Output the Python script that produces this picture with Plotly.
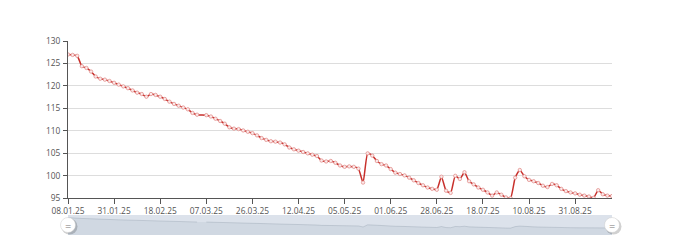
import plotly.graph_objects as go

dates = [
    "08.01.25", "10.01.25", "13.01.25", "15.01.25", "17.01.25", "20.01.25", "22.01.25", "24.01.25", "27.01.25", "29.01.25",
    "31.01.25", "02.02.25", "04.02.25", "06.02.25", "07.02.25", "09.02.25", "11.02.25", "13.02.25", "14.02.25", "16.02.25",
    "18.02.25", "20.02.25", "21.02.25", "23.02.25", "25.02.25", "26.02.25", "28.02.25", "02.03.25", "03.03.25", "05.03.25",
    "07.03.25", "09.03.25", "11.03.25", "13.03.25", "14.03.25", "16.03.25", "18.03.25", "20.03.25", "22.03.25", "24.03.25",
    "26.03.25", "28.03.25", "29.03.25", "31.03.25", "02.04.25", "03.04.25", "05.04.25", "07.04.25", "08.04.25", "10.04.25",
    "12.04.25", "14.04.25", "17.04.25", "19.04.25", "21.04.25", "24.04.25", "26.04.25", "28.04.25", "01.05.25", "03.05.25",
    "05.05.25", "08.05.25", "10.05.25", "13.05.25", "16.05.25", "18.05.25", "21.05.25", "24.05.25", "26.05.25", "29.05.25",
    "01.06.25", "04.06.25", "06.06.25", "09.06.25", "12.06.25", "14.06.25", "17.06.25", "20.06.25", "22.06.25", "25.06.25",
    "28.06.25", "30.06.25", "02.07.25", "04.07.25", "06.07.25", "08.07.25", "10.07.25", "12.07.25", "14.07.25", "16.07.25",
    "18.07.25", "20.07.25", "23.07.25", "25.07.25", "27.07.25", "30.07.25", "01.08.25", "03.08.25", "06.08.25", "08.08.25",
    "10.08.25", "12.08.25", "14.08.25", "16.08.25", "18.08.25", "20.08.25", "22.08.25", "24.08.25", "26.08.25", "28.08.25",
    "31.08.25", "02.09.25", "04.09.25", "06.09.25", "08.09.25", "10.09.25", "12.09.25", "14.09.25", "16.09.25",
]

values = [
    127.0, 126.9, 126.7, 124.4, 124.0, 123.2, 122.1, 121.6, 121.4, 121.1,
    120.7, 120.3, 119.9, 119.5, 119.0, 118.5, 118.2, 117.6, 118.2, 118.0,
    117.6, 117.1, 116.5, 116.0, 115.6, 115.2, 114.8, 114.0, 113.6, None,
    113.5, 113.2, 112.7, 112.2, 111.6, 110.8, 110.5, 110.4, 110.1, 109.8,
    109.5, 109.0, 108.4, 108.0, 107.7, 107.6, 107.4, 107.0, 106.3, 105.9,
    105.6, 105.3, 105.0, 104.7, 104.4, 103.4, 103.2, 103.3, 102.9, 102.3,
    102.0, 102.1, 102.0, 101.6, 98.5, 105.0, 104.5, 103.3, 102.6, 102.3,
    101.5, 100.7, 100.4, 100.1, 99.6, 99.0, 98.4, 97.9, 97.4, 97.1,
    96.9, 99.8, 96.7, 96.2, 100.0, 99.3, 100.8, 98.8, 98.1, 97.4,
    96.9, 96.3, 95.6, 96.3, 95.8, 95.2, 95.05, 99.6, 101.3, 99.9,
    99.1, 98.8, 98.4, 97.8, 97.5, 98.2, 97.9, 97.1, 96.6, 96.3,
    96.1, 95.8, 95.6, 95.4, 95.1, 96.8, 95.9, 95.6, 95.5,
]

tick_labels = dates[::10]
y_range = [95, 130]

n = len(dates)
W, H = 680, 240
ml, mr, mt, mb = 68, 68, 41, 0
ph = H - mt - mb
main_bottom = (H - mb - 198.3) / ph
slider_bottom = (H - mb - 235) / ph
slider_top = (H - mb - 215) / ph

axis_col = "#555555"
font = dict(family="Open Sans", size=8.4, color="#555555")

fig = go.Figure()
# data shadow in slider
fig.add_trace(go.Scatter(
    x=dates, y=values, xaxis="x2", yaxis="y2", mode="lines",
    line=dict(color="rgba(47,69,84,0.3)", width=0.5),
    fill="tozeroy", fillcolor="#d0d8e2", connectgaps=False,
    hoverinfo="skip", showlegend=False,
))
# main series
fig.add_trace(go.Scatter(
    x=dates, y=values, mode="lines+markers", connectgaps=True,
    line=dict(color="#c8302c", width=1.5, shape="spline", smoothing=0.5),
    marker=dict(symbol="circle", size=3.4, color="#fbeaea",
                line=dict(color="#e08582", width=0.7)),
    showlegend=False,
))

shapes = [
    dict(type="rect", xref="paper", yref="y2 domain", x0=0, x1=1, y0=0, y1=1,
         fillcolor="#dce2eb", line=dict(width=0), layer="below"),
]
annotations = []
for xa in (0, 1):
    shapes.append(dict(type="circle", xref="paper", yref="y2 domain",
                       xsizemode="pixel", ysizemode="pixel", xanchor=xa, yanchor=0.5,
                       x0=-6.5, x1=9.5, y0=-9.5, y1=6.5,
                       fillcolor="rgba(0,0,0,0.18)", line=dict(width=0), layer="above"))
    shapes.append(dict(type="circle", xref="paper", yref="y2 domain",
                       xsizemode="pixel", ysizemode="pixel", xanchor=xa, yanchor=0.5,
                       x0=-7.5, x1=7.5, y0=-7.5, y1=7.5,
                       fillcolor="white", line=dict(color="#cccccc", width=0.5), layer="above"))
    annotations.append(dict(x=xa, y=0.5, xref="paper", yref="y2 domain", text="=",
                            showarrow=False, font=dict(family="Open Sans", size=11, color="#777777"),
                            xanchor="center", yanchor="middle"))

fig.update_layout(
    width=W, height=H,
    margin=dict(l=ml, r=mr, t=mt, b=mb, pad=0),
    paper_bgcolor="white", plot_bgcolor="white",
    font=font,
    xaxis=dict(type="category", domain=[0, 1], anchor="y", range=[0, n - 1],
               tickmode="array", tickvals=tick_labels, ticktext=tick_labels,
               ticks="outside", ticklen=5, tickcolor=axis_col, tickwidth=1,
               showline=True, linecolor=axis_col, linewidth=1,
               showgrid=False, zeroline=False, tickfont=font, automargin=False),
    yaxis=dict(domain=[main_bottom, 1], anchor="x", range=y_range, dtick=5,
               showline=True, linecolor=axis_col, linewidth=1,
               ticks="outside", ticklen=4, tickcolor=axis_col,
               showgrid=True, gridcolor="#dddddd", gridwidth=1, zeroline=False,
               tickfont=font, ticklabelstandoff=1, automargin=False),
    xaxis2=dict(type="category", domain=[0, 1], anchor="y2", range=[0, n - 1],
                visible=False, showgrid=False, automargin=False),
    yaxis2=dict(domain=[slider_bottom, slider_top], anchor="x2", range=[74, 135],
                visible=False, showgrid=False, automargin=False),
    shapes=shapes,
    annotations=annotations,
)

fig.write_html("out.html")
